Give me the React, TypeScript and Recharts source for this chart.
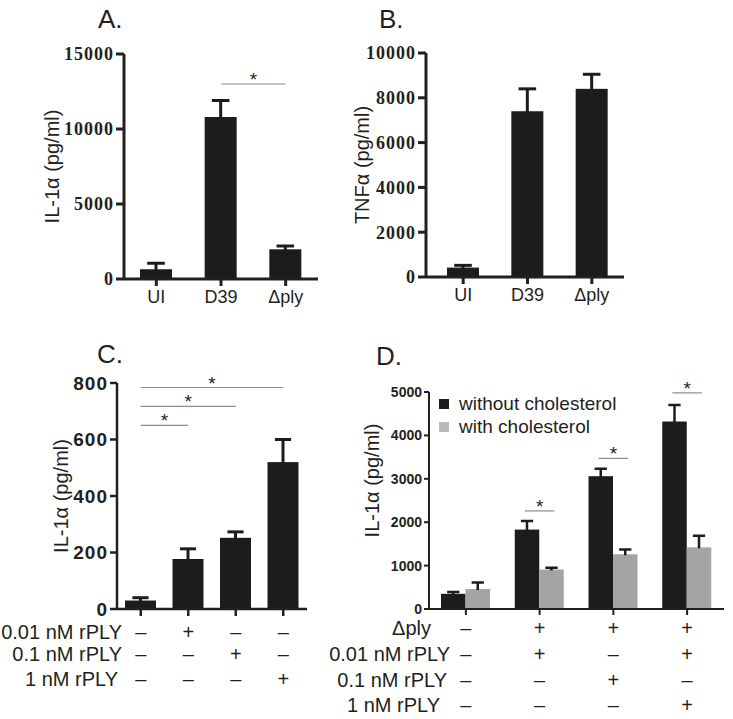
import React from 'react'
import { BarChart, Bar, XAxis, YAxis, ReferenceLine, Legend } from 'recharts'

const SANS = '"Liberation Sans", Arial, sans-serif'
const SERIF = '"Liberation Serif", "Times New Roman", serif'
const INK = '#231f20'
const DARK = '#1c1c1c'
const GREY = '#a4a4a4'
const SIG = '#8c8c8c'

// panels A and B
const groupsAB = ['UI', 'D39', 'Δply']
const il1aA = [650, 10800, 1980]
const il1aAErr = [400, 1100, 220]
const yTicksA = [0, 5000, 10000, 15000]
const tnfB = [420, 7400, 8400]
const tnfBErr = [100, 1000, 650]
const yTicksB = [0, 2000, 4000, 6000, 8000, 10000]

// panel C
const groupsC = ['none', '0.01', '0.1', '1']
const il1aC = [30, 177, 252, 520]
const il1aCErr = [10, 36, 21, 80]
const yTicksC = [0, 200, 400, 600, 800]
const rowLabelsC = ['0.01 nM rPLY', '0.1 nM rPLY', '1 nM rPLY']
const signsC = [
  ['–', '+', '–', '–'],
  ['–', '–', '+', '–'],
  ['–', '–', '–', '+'],
]
const sigC = [
  { from: 'none', to: '0.01', y: 650 },
  { from: 'none', to: '0.1', y: 717 },
  { from: 'none', to: '1', y: 784 },
]

// panel D
const groupPosD = [0.5, 1.5, 2.5, 3.5]
const seriesD = ['without cholesterol', 'with cholesterol']
const withoutChol = [350, 1830, 3060, 4320]
const withoutCholErr = [40, 200, 170, 380]
const withChol = [460, 910, 1260, 1420]
const withCholErr = [150, 40, 110, 270]
const yTicksD = [0, 1000, 2000, 3000, 4000, 5000]
const rowLabelsD = ['Δply', '0.01 nM rPLY', '0.1 nM rPLY', '1 nM rPLY']
const signsD = [
  ['–', '+', '+', '+'],
  ['–', '+', '–', '+'],
  ['–', '–', '+', '–'],
  ['–', '–', '–', '+'],
]
const sigD = [
  { pos: 1.5, y: 2260 },
  { pos: 2.5, y: 3470 },
  { pos: 3.5, y: 4980 },
]

const dataA = groupsAB.map((g, i) => ({ name: g, v: il1aA[i], e: il1aAErr[i] }))
const dataB = groupsAB.map((g, i) => ({ name: g, v: tnfB[i], e: tnfBErr[i] }))
const dataC = groupsC.map((g, i) => ({ name: g, v: il1aC[i], e: il1aCErr[i] }))
const dataD = groupPosD.map((p, i) => ({
  pos: p,
  wo: withoutChol[i],
  woE: withoutCholErr[i],
  w: withChol[i],
  wE: withCholErr[i],
}))

// bar with an upward-only error whisker
const errShape = (valKey: string, errKey: string, capFrac: number, sw: number) => (p: any) => {
  const { x, y, width, height, fill, payload } = p
  const v = payload[valKey]
  const e = payload[errKey]
  const k = v ? height / v : 0
  const cx = x + width / 2
  const top = y - e * k
  const cap = width * capFrac
  return (
    <g>
      <rect x={x} y={y} width={width} height={height} fill={fill} />
      <line x1={cx} x2={cx} y1={y + 1} y2={top} stroke={DARK} strokeWidth={sw} />
      <line x1={cx - cap / 2} x2={cx + cap / 2} y1={top} y2={top} stroke={DARK} strokeWidth={sw} />
    </g>
  )
}

const XTick = (props: any) => {
  const { x, y, payload } = props
  return (
    <text x={x} y={y} dy="0.71em" textAnchor="middle" style={{ fontFamily: SANS, fontSize: 18, fill: INK }}>
      {payload.value}
    </text>
  )
}

const SignTick = (props: any) => {
  const { x, y, payload, rows, offsets } = props
  const idx = payload.index
  return (
    <g>
      {rows.map((r: string[], i: number) => (
        <text
          key={i}
          x={x}
          y={y + offsets[i]}
          textAnchor="middle"
          dominantBaseline="central"
          style={{ fontFamily: SANS, fontSize: 20, fill: INK }}
        >
          {r[idx]}
        </text>
      ))}
    </g>
  )
}

// y tick values drawn as labels of invisible reference lines
const tickLabels = (ticks: number[], offset: number, font: any) =>
  ticks.map((t) => (
    <ReferenceLine
      key={`t${t}`}
      y={t}
      stroke="none"
      label={{ value: t, position: 'left', offset, fill: INK, fontWeight: 700, ...font }}
    />
  ))

const star = { value: '*', position: 'top' as const, offset: -2, fontSize: 19, fill: INK, fontFamily: SANS }

// rotated axis title, placed from the axis viewBox
const yLabel = (value: string, offset: number, dy = 0) => (props: any) => {
  const vb = props.viewBox
  const cx = vb.x + offset
  const cy = vb.y + vb.height / 2 + dy
  return (
    <text
      x={cx}
      y={cy}
      transform={`rotate(-90, ${cx}, ${cy})`}
      textAnchor="middle"
      dominantBaseline="central"
      style={{ fontFamily: SANS, fontSize: 20, fill: INK }}
    >
      {value}
    </text>
  )
}

const Title = ({ text, left, top }: { text: string; left: number; top: number }) => (
  <div
    style={{
      position: 'absolute',
      left,
      top,
      fontFamily: SANS,
      fontSize: 26,
      lineHeight: '26px',
      color: INK,
    }}
  >
    {text}
  </div>
)

const RowLabel = ({ text, right, cy }: { text: string; right: number; cy: number }) => (
  <div
    style={{
      position: 'absolute',
      left: right - 200,
      width: 200,
      top: cy - 11,
      textAlign: 'right',
      fontFamily: SANS,
      fontSize: 20,
      lineHeight: '22px',
      color: INK,
      whiteSpace: 'nowrap',
    }}
  >
    {text}
  </div>
)

const serifFont = { fontFamily: SERIF, fontSize: 18, letterSpacing: 1 }
const sansFontC = { fontFamily: SANS, fontSize: 19, letterSpacing: 1 }
const sansFontD = { fontFamily: SANS, fontSize: 14 }
const blank = () => ''

const App = () => {
  const axisAB = { stroke: INK, strokeWidth: 3 }
  const axisC = { stroke: INK, strokeWidth: 2.5 }
  const axisD = { stroke: INK, strokeWidth: 2 }
  return (
    <div style={{ position: 'absolute', left: 0, top: 0, width: 733, height: 719, background: '#fff' }}>
      <Title text="A." left={98} top={6} />
      <Title text="B." left={379} top={6} />
      <Title text="C." left={97} top={341} />
      <Title text="D." left={376} top={343} />

      {/* A */}
      <div style={{ position: 'absolute', left: 0, top: 0 }}>
        <BarChart width={366} height={320} data={dataA} margin={{ top: 54, right: 48, left: 40, bottom: 5 }} barSize={32}>
          <XAxis
            dataKey="name"
            height={36}
            interval={0}
            tickSize={7}
            tickMargin={4}
            axisLine={axisAB}
            tickLine={axisAB}
            tick={<XTick />}
          />
          <YAxis
            width={84}
            domain={[0, 15000]}
            ticks={yTicksA}
            tickSize={8}
            tickMargin={2}
            axisLine={axisAB}
            tickLine={axisAB}
            tickFormatter={blank}
            label={yLabel('IL-1α (pg/ml)', 12)}
          />
          {tickLabels(yTicksA, 10, serifFont)}
          <Bar dataKey="v" fill={DARK} isAnimationActive={false} shape={errShape('v', 'e', 0.55, 3)} />
          <ReferenceLine
            segment={[{ x: 'D39', y: 13000 }, { x: 'Δply', y: 13000 }]}
            stroke={SIG}
            strokeWidth={1.2}
            label={star}
          />
        </BarChart>
      </div>

      {/* B */}
      <div style={{ position: 'absolute', left: 330, top: 0 }}>
        <BarChart width={403} height={320} data={dataB} margin={{ top: 53, right: 109, left: 0, bottom: 7 }} barSize={32}>
          <XAxis
            dataKey="name"
            height={36}
            interval={0}
            padding={{ left: 5, right: 0 }}
            tickSize={7}
            tickMargin={4}
            axisLine={axisAB}
            tickLine={axisAB}
            tick={<XTick />}
          />
          <YAxis
            width={96}
            domain={[0, 10000]}
            ticks={yTicksB}
            tickSize={8}
            tickMargin={2}
            axisLine={axisAB}
            tickLine={axisAB}
            tickFormatter={blank}
            label={yLabel('TNFα (pg/ml)', 32)}
          />
          {tickLabels(yTicksB, 10, serifFont)}
          <Bar dataKey="v" fill={DARK} isAnimationActive={false} shape={errShape('v', 'e', 0.55, 3)} />
        </BarChart>
      </div>

      {/* C */}
      <div style={{ position: 'absolute', left: 0, top: 330 }}>
        <BarChart width={366} height={389} data={dataC} margin={{ top: 53, right: 59, left: 0, bottom: 10 }} barSize={31}>
          <XAxis
            dataKey="name"
            height={100}
            interval={0}
            tickSize={7}
            tickMargin={0}
            axisLine={axisC}
            tickLine={axisC}
            tick={<SignTick rows={signsC} offsets={[16, 38, 63]} />}
          />
          <YAxis
            width={117}
            domain={[0, 800]}
            ticks={yTicksC}
            tickSize={7}
            tickMargin={2}
            axisLine={axisC}
            tickLine={axisC}
            tickFormatter={blank}
            label={yLabel('IL-1α (pg/ml)', 61)}
          />
          {tickLabels(yTicksC, 9, sansFontC)}
          <Bar dataKey="v" fill={DARK} isAnimationActive={false} shape={errShape('v', 'e', 0.52, 3)} />
          {sigC.map((s, i) => (
            <ReferenceLine
              key={i}
              segment={[{ x: s.from, y: s.y }, { x: s.to, y: s.y }]}
              stroke={SIG}
              strokeWidth={1.2}
              label={star}
            />
          ))}
        </BarChart>
      </div>
      <RowLabel text={rowLabelsC[0]} right={122} cy={632} />
      <RowLabel text={rowLabelsC[1]} right={122} cy={654} />
      <RowLabel text={rowLabelsC[2]} right={118} cy={679} />

      {/* D */}
      <div style={{ position: 'absolute', left: 330, top: 330 }}>
        <BarChart
          width={403}
          height={389}
          data={dataD}
          margin={{ top: 62, right: 9, left: 0, bottom: 5 }}
          barSize={24.5}
          barGap={0}
        >
          <XAxis
            dataKey="pos"
            type="number"
            domain={[0, 4]}
            ticks={groupPosD}
            allowDataOverflow
            height={105}
            interval={0}
            tickSize={6}
            tickMargin={0}
            axisLine={axisD}
            tickLine={axisD}
            tick={<SignTick rows={signsD} offsets={[13, 39, 65, 90]} />}
          />
          <YAxis
            width={99}
            domain={[0, 5000]}
            ticks={yTicksD}
            tickSize={5}
            tickMargin={2}
            axisLine={axisD}
            tickLine={axisD}
            tickFormatter={blank}
            label={yLabel('IL-1α (pg/ml)', 42, -20)}
          />
          {tickLabels(yTicksD, 7, sansFontD)}
          <Legend
            layout="vertical"
            align="center"
            verticalAlign="middle"
            wrapperStyle={{ left: 109, top: 62, width: 'auto', height: 'auto' }}
            content={(props: any) => {
              const items = [...(props.payload || [])].sort(
                (a: any, b: any) => seriesD.indexOf(a.value) - seriesD.indexOf(b.value),
              )
              return (
                <div style={{ fontFamily: SANS, fontSize: 19, color: INK }}>
                  {items.map((e: any) => (
                    <div key={e.value} style={{ display: 'flex', alignItems: 'center', height: 23 }}>
                      <span
                        style={{
                          display: 'inline-block',
                          width: 10,
                          height: 10,
                          background: e.color === GREY ? '#bababa' : e.color,
                          marginRight: 10,
                        }}
                      />
                      {e.value}
                    </div>
                  ))}
                </div>
              )
            }}
          />
          <Bar
            dataKey="wo"
            name={seriesD[0]}
            fill={DARK}
            isAnimationActive={false}
            shape={errShape('wo', 'woE', 0.5, 2.5)}
          />
          <Bar
            dataKey="w"
            name={seriesD[1]}
            fill={GREY}
            isAnimationActive={false}
            shape={errShape('w', 'wE', 0.5, 2.5)}
          />
          {sigD.map((s, i) => (
            <ReferenceLine
              key={i}
              segment={[{ x: s.pos - 0.2, y: s.y }, { x: s.pos + 0.2, y: s.y }]}
              stroke={SIG}
              strokeWidth={1.2}
              label={star}
            />
          ))}
        </BarChart>
      </div>
      <RowLabel text={rowLabelsD[0]} right={431} cy={628} />
      <RowLabel text={rowLabelsD[1]} right={450} cy={654} />
      <RowLabel text={rowLabelsD[2]} right={447} cy={680} />
      <RowLabel text={rowLabelsD[3]} right={440} cy={705} />
    </div>
  )
}

export default App
